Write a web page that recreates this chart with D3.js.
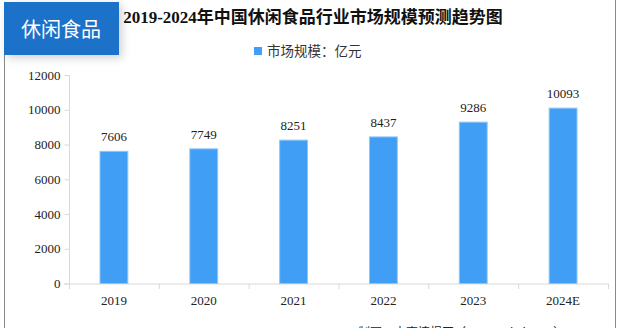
<!DOCTYPE html>
<html><head><meta charset="utf-8">
<script src="https://cdn.jsdelivr.net/npm/d3@7/dist/d3.min.js"></script>
<style>
html,body{margin:0;padding:0;background:#fff;}
svg{display:block;}
</style></head>
<body>
<svg id="c" width="622" height="328"></svg>
<script>
const categories = ["2019","2020","2021","2022","2023","2024E"];
const values = [7606,7749,8251,8437,9286,10093];
const yTicks = [0,2000,4000,6000,8000,10000,12000];
const title = "2019-2024年中国休闲食品行业市场规模预测趋势图";
const legendLabel = "市场规模：亿元";
const badge = "休闲食品";
const source = "制图：中商情报网（www.askci.com）";

const svg = d3.select("#c");
const numFont = "'Liberation Serif','Noto Sans CJK SC',serif";
const cjkFont = "'Noto Sans CJK SC',sans-serif";

// frame lines
svg.append("line").attr("x1",4.5).attr("x2",4.5).attr("y1",50).attr("y2",328).attr("stroke","#8a8a8a");
svg.append("line").attr("x1",615.5).attr("x2",615.5).attr("y1",0).attr("y2",328).attr("stroke","#8a8a8a");

// badge with shadow
const defs = svg.append("defs");
const f = defs.append("filter").attr("id","sh").attr("x","-20%").attr("y","-20%").attr("width","150%").attr("height","160%");
f.append("feDropShadow").attr("dx",3).attr("dy",3).attr("stdDeviation",4).attr("flood-color","#000").attr("flood-opacity",0.18);
svg.append("rect").attr("x",4).attr("y",2).attr("width",115).attr("height",53).attr("fill","#1d72c9").attr("filter","url(#sh)");
svg.append("text").attr("x",61).attr("y",37).attr("text-anchor","middle").attr("fill","#fff")
  .attr("font-family",cjkFont).attr("font-size",20).text(badge);

// title
svg.append("text").attr("x",313).attr("y",23).attr("text-anchor","middle").attr("fill","#111")
  .attr("font-family",numFont).attr("font-weight","bold").attr("font-size",17).text(title);

// legend
svg.append("rect").attr("x",254).attr("y",47).attr("width",8).attr("height",8).attr("fill","#409ef4");
svg.append("text").attr("x",267).attr("y",56).attr("fill","#333").attr("font-family",cjkFont).attr("font-size",13.5).text(legendLabel);

const x = d3.scaleBand().domain(categories).range([69,608]).paddingInner(0.69).paddingOuter(0.345);
const y = d3.scaleLinear().domain([0,12000]).range([283.5,75]);

// y axis
const ya = svg.append("g").attr("transform","translate(69.5,0)")
  .call(d3.axisLeft(y).tickValues(yTicks).tickSize(5).tickPadding(4).tickFormat(d3.format("d")));
ya.select(".domain").attr("stroke","#d9d9d9").attr("d","M0,"+y(12000)+"V"+y(0));
ya.selectAll(".tick line").attr("stroke","#d9d9d9");
ya.selectAll("text").attr("font-family",numFont).attr("font-size",13).attr("fill","#222");

// x axis
const xa = svg.append("g").attr("transform","translate(0,"+(y(0)+0.5)+")")
  .call(d3.axisBottom(x).tickSize(0).tickPadding(12));
xa.select(".domain").attr("stroke","#d9d9d9").attr("d","M64,0H609");
xa.selectAll("text").attr("font-family",numFont).attr("font-size",13).attr("fill","#222");
const step = x.step();
xa.selectAll(".sep").data(d3.range(categories.length+1)).enter().append("line")
  .attr("x1",i=>69.5+i*step).attr("x2",i=>69.5+i*step).attr("y1",0).attr("y2",5).attr("stroke","#d9d9d9");

// bars
svg.append("g").selectAll("rect").data(values).enter().append("rect")
  .attr("x",(d,i)=>x(categories[i])).attr("width",x.bandwidth())
  .attr("y",d=>y(d)).attr("height",d=>y(0)-y(d))
  .attr("fill","#409ef4").attr("stroke","#8fc6f8").attr("stroke-width",1);

svg.append("g").selectAll("text").data(values).enter().append("text")
  .attr("x",(d,i)=>x(categories[i])+x.bandwidth()/2).attr("y",d=>y(d)-10)
  .attr("text-anchor","middle").attr("font-family",numFont).attr("font-size",13).attr("fill","#222")
  .text(d=>d);

// source (cut off at bottom, as in the reference)
svg.append("text").attr("x",358).attr("y",337).attr("fill","#222").attr("font-family",cjkFont).attr("font-size",12).text(source);
</script>
</body></html>
